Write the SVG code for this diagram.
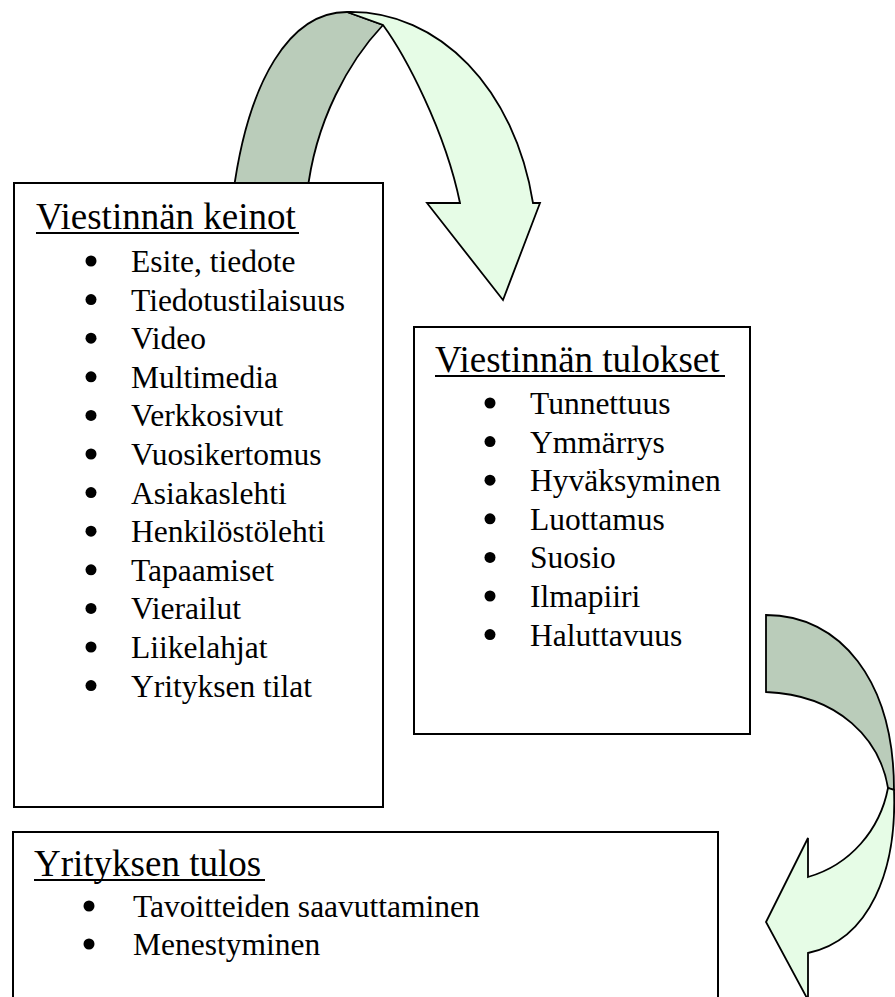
<svg xmlns="http://www.w3.org/2000/svg" width="895" height="997" viewBox="0 0 895 997">
  <style>
    .box { fill: #ffffff; stroke: #000000; stroke-width: 2; }
    .back { fill: #BACCBA; stroke: #000000; stroke-width: 1.8; stroke-linejoin: miter; }
    .front { fill: #E6FCE6; stroke: #000000; stroke-width: 1.8; stroke-linejoin: miter; }
    .title { font-family: "Liberation Serif", "Times New Roman", serif; font-size: 37px; fill: #000000; }
    .item { font-family: "Liberation Serif", "Times New Roman", serif; font-size: 31.5px; fill: #000000; }
    .uline { stroke: #000000; stroke-width: 2.2; }
    .dot { fill: #000000; }
  </style>
  <rect width="895" height="997" fill="#ffffff"/>

  <!-- curved arrows between the boxes -->
  <g id="connectors">
    <g id="arrow-top">
      <path class="back" d="M233,195 C248,80 290,12 347,12 L383,25 C350,60 315,120 307,195 Z"/>
      <path class="front" d="M347,12 C440,10 515,90 533,203 L540,203 L503,300 L427,203 L460,203 C445,130 405,55 383,25 Z"/>
    </g>
    <g id="arrow-right">
      <path class="back" d="M766,615 C840,615 894,680 894,790 L888,788 C880,740 840,695 766,692 Z"/>
      <path class="front" d="M894,790 C897,870 870,940 808,953 L808,1000 L766,922 L808,838 L808,877 C850,865 880,830 888,788 Z"/>
    </g>
  </g>

  <!-- means of communication -->
  <g id="keinot">
    <rect class="box" x="14" y="183" width="369" height="624"/>
    <text class="title" x="36" y="229">Viestinnän keinot</text>
    <line class="uline" x1="36" y1="233" x2="299" y2="233"/>
    <g class="dot">
      <circle cx="91" cy="261" r="5.5"/>
      <circle cx="91" cy="299.6" r="5.5"/>
      <circle cx="91" cy="338.2" r="5.5"/>
      <circle cx="91" cy="376.8" r="5.5"/>
      <circle cx="91" cy="415.4" r="5.5"/>
      <circle cx="91" cy="454" r="5.5"/>
      <circle cx="91" cy="492.6" r="5.5"/>
      <circle cx="91" cy="531.2" r="5.5"/>
      <circle cx="91" cy="569.8" r="5.5"/>
      <circle cx="91" cy="608.4" r="5.5"/>
      <circle cx="91" cy="647" r="5.5"/>
      <circle cx="91" cy="685.6" r="5.5"/>
    </g>
    <text class="item" x="131" y="272">Esite, tiedote</text>
    <text class="item" x="131" y="310.6">Tiedotustilaisuus</text>
    <text class="item" x="131" y="349.2">Video</text>
    <text class="item" x="131" y="387.8">Multimedia</text>
    <text class="item" x="131" y="426.4">Verkkosivut</text>
    <text class="item" x="131" y="465">Vuosikertomus</text>
    <text class="item" x="131" y="503.6">Asiakaslehti</text>
    <text class="item" x="131" y="542.2">Henkilöstölehti</text>
    <text class="item" x="131" y="580.8">Tapaamiset</text>
    <text class="item" x="131" y="619.4">Vierailut</text>
    <text class="item" x="131" y="658">Liikelahjat</text>
    <text class="item" x="131" y="696.6">Yrityksen tilat</text>
  </g>

  <!-- results of communication -->
  <g id="tulokset">
    <rect class="box" x="414" y="327" width="336" height="407"/>
    <text class="title" x="435" y="372">Viestinnän tulokset</text>
    <line class="uline" x1="435" y1="376" x2="725" y2="376"/>
    <g class="dot">
      <circle cx="490" cy="403" r="5.5"/>
      <circle cx="490" cy="441.6" r="5.5"/>
      <circle cx="490" cy="480.2" r="5.5"/>
      <circle cx="490" cy="518.8" r="5.5"/>
      <circle cx="490" cy="557.4" r="5.5"/>
      <circle cx="490" cy="596" r="5.5"/>
      <circle cx="490" cy="634.6" r="5.5"/>
    </g>
    <text class="item" x="530" y="414">Tunnettuus</text>
    <text class="item" x="530" y="452.6">Ymmärrys</text>
    <text class="item" x="530" y="491.2">Hyväksyminen</text>
    <text class="item" x="530" y="529.8">Luottamus</text>
    <text class="item" x="530" y="568.4">Suosio</text>
    <text class="item" x="530" y="607">Ilmapiiri</text>
    <text class="item" x="530" y="645.6">Haluttavuus</text>
  </g>

  <!-- company result -->
  <g id="tulos">
    <rect class="box" x="13" y="832" width="705" height="200"/>
    <text class="title" x="34" y="876">Yrityksen tulos</text>
    <line class="uline" x1="34" y1="880" x2="265" y2="880"/>
    <g class="dot">
      <circle cx="89" cy="906" r="5.5"/>
      <circle cx="89" cy="944" r="5.5"/>
    </g>
    <text class="item" x="133" y="917">Tavoitteiden saavuttaminen</text>
    <text class="item" x="133" y="955">Menestyminen</text>
  </g>
</svg>
